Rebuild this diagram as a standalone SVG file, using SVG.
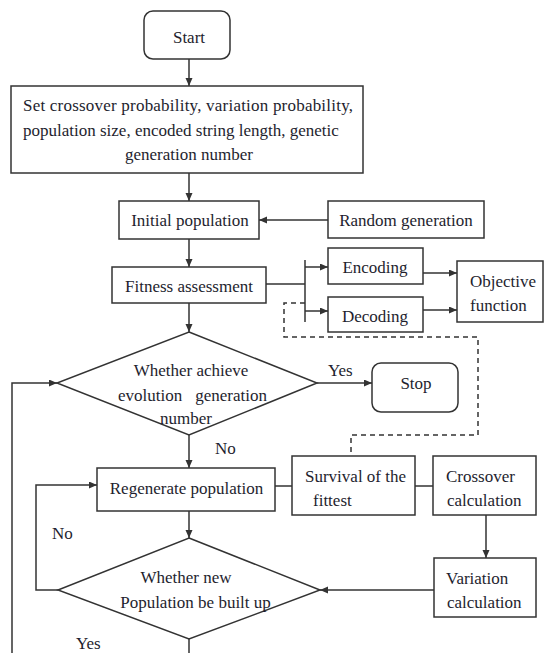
<svg xmlns="http://www.w3.org/2000/svg" width="545" height="653" viewBox="0 0 545 653">
<style>
.box{fill:#fff;stroke:#333;stroke-width:1.5}
.ln{fill:none;stroke:#333;stroke-width:1.5}
.arr{fill:none;stroke:#333;stroke-width:1.5;marker-end:url(#ah)}
.dash{fill:none;stroke:#333;stroke-width:1.5;stroke-dasharray:5,4}
text{font-family:"Liberation Serif","Times New Roman",serif;font-size:17px;fill:#1e1e2e}
.c{text-anchor:middle}
</style>
<defs>
<marker id="ah" markerUnits="userSpaceOnUse" markerWidth="9" markerHeight="8" refX="8" refY="3.5" orient="auto">
<path d="M0,0 L8,3.5 L0,7 z" fill="#333"/>
</marker>
</defs>
<rect width="545" height="653" fill="#fff"/>
<g id="connectors">
<line class="arr" x1="189" y1="59" x2="189" y2="86"/>
<line class="arr" x1="189" y1="173" x2="189" y2="201"/>
<line class="arr" x1="328" y1="220" x2="259" y2="220"/>
<line class="arr" x1="189" y1="239" x2="189" y2="267"/>
<polyline class="ln" points="266,284 305,284"/>
<line class="ln" x1="305" y1="260" x2="305" y2="322"/>
<line class="arr" x1="305" y1="267" x2="328" y2="267"/>
<line class="arr" x1="305" y1="311" x2="328" y2="311"/>
<line class="arr" x1="423" y1="273" x2="457" y2="273"/>
<line class="arr" x1="423" y1="310" x2="457" y2="310"/>
<path class="dash" d="M305,303 H284 V337 H478 V435 H351 V456"/>
<line class="arr" x1="189" y1="303" x2="189" y2="332"/>
<line class="arr" x1="317" y1="383" x2="372" y2="383"/>
<line class="arr" x1="189" y1="435" x2="189" y2="468"/>
<line class="ln" x1="275" y1="486" x2="292" y2="486"/>
<line class="ln" x1="415" y1="486" x2="433" y2="486"/>
<line class="arr" x1="486" y1="515" x2="486" y2="558"/>
<line class="arr" x1="434" y1="590" x2="320" y2="590"/>
<line class="arr" x1="189" y1="511" x2="189" y2="538"/>
<path class="arr" d="M58,590 H36 V485 H97"/>
<line class="ln" x1="189" y1="639" x2="189" y2="653"/>
<path class="arr" d="M12,653 V383 H57"/>
</g>
<g id="start">
<rect class="box" x="144" y="11" width="86" height="48" rx="9"/>
<text class="c" x="189" y="42.5">Start</text>
</g>
<g id="settings">
<rect class="box" x="11" y="86" width="352" height="87"/>
<text x="23" y="110.5" textLength="330" lengthAdjust="spacing">Set crossover probability, variation probability,</text>
<text x="23" y="135.5">population size, encoded string length, genetic</text>
<text x="125" y="159.5">generation number</text>
</g>
<g id="initial">
<rect class="box" x="119" y="201" width="140" height="38"/>
<text class="c" x="190" y="225.5">Initial population</text>
</g>
<g id="random">
<rect class="box" x="328" y="201" width="156" height="37"/>
<text class="c" x="406" y="225.5">Random generation</text>
</g>
<g id="fitness">
<rect class="box" x="112" y="267" width="154" height="36"/>
<text class="c" x="189" y="291.5">Fitness assessment</text>
</g>
<g id="encoding">
<rect class="box" x="328" y="248" width="95" height="36"/>
<text class="c" x="375" y="272.5">Encoding</text>
</g>
<g id="decoding">
<rect class="box" x="328" y="297" width="95" height="35"/>
<text class="c" x="375" y="321.5">Decoding</text>
</g>
<g id="objective">
<rect class="box" x="457" y="261" width="86" height="61"/>
<text x="470" y="286.5">Objective</text>
<text x="470" y="310.5">function</text>
</g>
<g id="decision1">
<polygon class="box" points="189,332 317,383 189,435 57,383"/>
<text class="c" x="191" y="375.5">Whether achieve</text>
<text><tspan x="118" y="400.5">evolution</tspan><tspan x="191" y="400.5"> generation</tspan></text>
<text class="c" x="186" y="423.5">number</text>
</g>
<g id="stop">
<rect class="box" x="372" y="363" width="86" height="49" rx="9"/>
<text class="c" x="416" y="388.5">Stop</text>
</g>
<g id="regenerate">
<rect class="box" x="97" y="468" width="178" height="43"/>
<text class="c" x="186.5" y="494">Regenerate population</text>
</g>
<g id="survival">
<rect class="box" x="292" y="456" width="123" height="59"/>
<text x="305" y="481.5">Survival of the</text>
<text x="313" y="505.5">fittest</text>
</g>
<g id="crossover">
<rect class="box" x="433" y="456" width="103" height="59"/>
<text x="446" y="481.5">Crossover</text>
<text x="447" y="505.5">calculation</text>
</g>
<g id="variation">
<rect class="box" x="434" y="558" width="102" height="59"/>
<text x="446" y="583.5">Variation</text>
<text x="447" y="607.5">calculation</text>
</g>
<g id="decision2">
<polygon class="box" points="189,538 320,590 189,639 58,590"/>
<text class="c" x="186" y="582.5">Whether new</text>
<text class="c" x="195.5" y="607.5">Population be built up</text>
</g>
<g id="labels">
<text x="328" y="375.5">Yes</text>
<text x="215" y="453.5">No</text>
<text x="52" y="538.5">No</text>
<text x="76" y="648.5">Yes</text>
</g>
</svg>
